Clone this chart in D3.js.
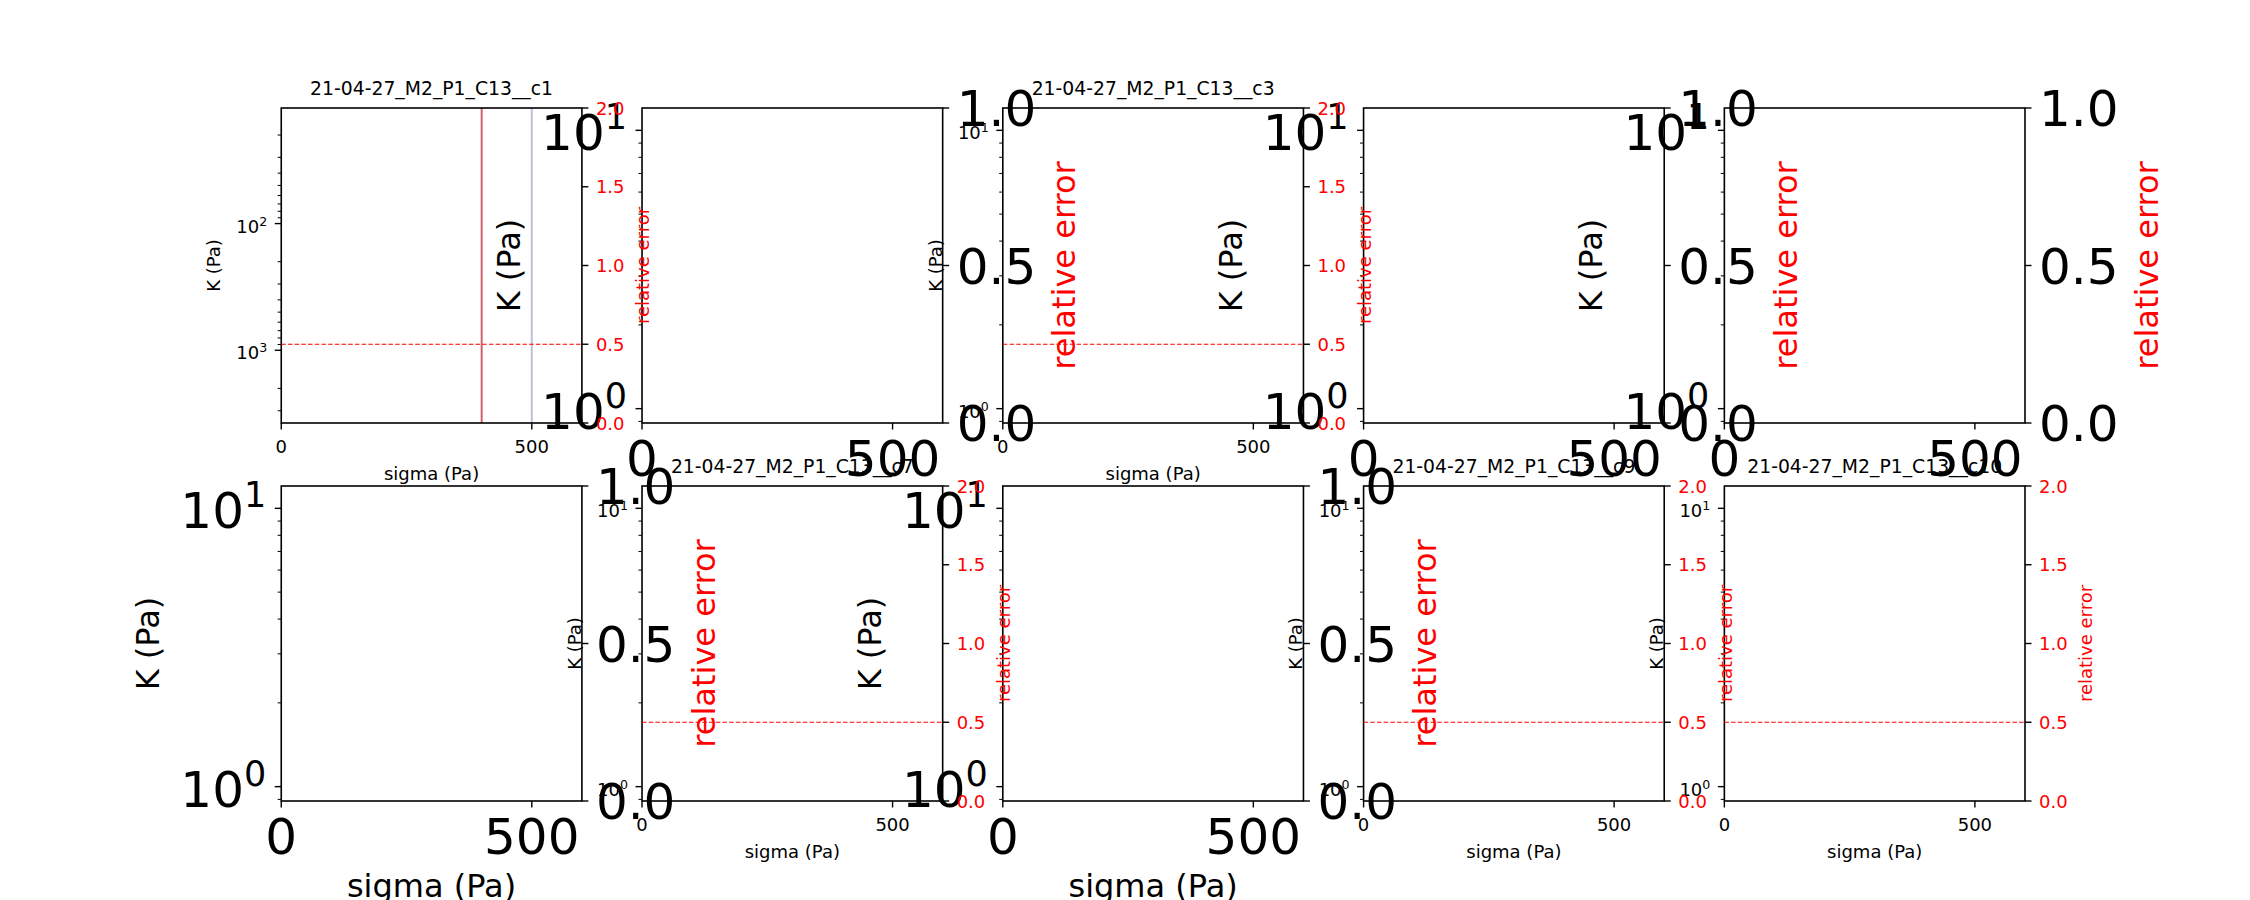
<!DOCTYPE html>
<html><head><meta charset="utf-8">
<script src="https://cdn.jsdelivr.net/npm/d3@7"></script>
<style>body{margin:0;background:#fff} svg{display:block} text{font-family:"DejaVu Sans",sans-serif}</style>
</head><body><svg id="chart" width="2250" height="900"></svg>
<script>
// ---------- data ----------
const panelTitles = ["21-04-27_M2_P1_C13__c1", "", "21-04-27_M2_P1_C13__c3", "", "",
                     "", "21-04-27_M2_P1_C13__c7", "", "21-04-27_M2_P1_C13__c9", "21-04-27_M2_P1_C13__c10"];
const panelStyles = ["small", "big", "small", "big", "big",
                     "big", "small", "big", "small", "small"];
const xLabel = "sigma (Pa)";
const yLabel = "K (Pa)";
const twinLabel = "relative error";
const sigmaDomain = [0, 600];
const sigmaTicks = [0, 500];
const kDomainEmpty = [0.888, 12.03];
const kDomainC1 = [12.24, 3750];          // drawn inverted (small values on top)
const relErrDomain = [0, 2];
const relErrTicks = [0, 0.5, 1.0, 1.5, 2.0];
const twinEmptyDomain = [0, 1];
const twinEmptyTicks = [0, 0.5, 1.0];
const errorThreshold = 0.5;
const markerSigmas = [400, 500];
const markerColors = ["#d0606a", "#bebede"];

// ---------- layout ----------
const W = 2250, H = 900;
const figL = 0.125 * W, figR = 0.9 * W, figT = (1 - 0.88) * H, figB = (1 - 0.11) * H;
const colW = (figR - figL) / (5 + 4 * 0.2), gapW = 0.2 * colW;
const rowH = (figB - figT) / (2 + 0.2), gapH = 0.2 * rowH;

const STY = {
  small: {tickFs: 18, labFs: 18, xtb: 30.3, xlb: 56.5, ytr: 14, ytb: 9, ylx: -61.3, rlx: 67.4, supShift: 0.38},
  big:   {tickFs: 50, labFs: 32, xtb: 53,   xlb: 95.5, ytr: 15, ytb: 20, ylx: -122, rlx: 132.8, supShift: 0.42}
};
const titleFs = 18.8;
const tickLen = 6.5, minorLen = 3.6, spineW = 1.6;

const svg = d3.select("#chart");
svg.append("rect").attr("width", W).attr("height", H).attr("fill", "#fff");

const panels = panelTitles.map((t, i) => {
  const r = Math.floor(i / 5), c = i % 5;
  const x0 = figL + c * (colW + gapW), y0 = figT + r * (rowH + gapH);
  return {i, r, c, x0, x1: x0 + colW, y0, y1: y0 + rowH, title: t, style: panelStyles[i]};
});

function drawMain(p) {
  const s = STY[p.style];
  const g = svg.append("g");
  const x = d3.scaleLinear().domain(sigmaDomain).range([p.x0, p.x1]);
  const isC1 = p.i === 0;
  const y = isC1 ? d3.scaleLog().domain(kDomainC1).range([p.y0, p.y1])   // inverted axis
                 : d3.scaleLog().domain(kDomainEmpty).range([p.y1, p.y0]);
  g.append("rect").attr("x", p.x0).attr("y", p.y0).attr("width", colW).attr("height", rowH).attr("fill", "#fff");
  if (isC1) {
    g.selectAll("line.mk").data(markerSigmas).join("line")
      .attr("x1", d => x(d)).attr("x2", d => x(d)).attr("y1", p.y0).attr("y2", p.y1)
      .attr("stroke", (d, k) => markerColors[k]).attr("stroke-width", 2);
  }
  // y ticks (log)
  const yt = y.ticks();
  yt.forEach(v => {
    const e = Math.log10(v), major = Math.abs(e - Math.round(e)) < 1e-9;
    const yy = y(v);
    g.append("line").attr("x1", p.x0).attr("x2", p.x0 - (major ? tickLen : minorLen))
      .attr("y1", yy).attr("y2", yy).attr("stroke", "#000").attr("stroke-width", major ? 1.4 : 1.0);
    if (major) {
      const t = g.append("text").attr("x", p.x0 - s.ytr).attr("y", yy + s.ytb)
        .attr("text-anchor", "end").attr("font-size", s.tickFs).attr("fill", "#000");
      t.append("tspan").text("10");
      t.append("tspan").attr("font-size", s.tickFs * 0.7).attr("dy", -s.tickFs * s.supShift).text(Math.round(e));
    }
  });
  // x ticks
  sigmaTicks.forEach(v => {
    g.append("line").attr("x1", x(v)).attr("x2", x(v)).attr("y1", p.y1).attr("y2", p.y1 + tickLen)
      .attr("stroke", "#000").attr("stroke-width", 1.4);
    g.append("text").attr("x", x(v)).attr("y", p.y1 + s.xtb).attr("text-anchor", "middle")
      .attr("font-size", s.tickFs).text(d3.format("d")(v));
  });
  g.append("rect").attr("x", p.x0).attr("y", p.y0).attr("width", colW).attr("height", rowH)
    .attr("fill", "none").attr("stroke", "#000").attr("stroke-width", spineW);
  // labels
  g.append("text").attr("x", (p.x0 + p.x1) / 2).attr("y", p.y1 + s.xlb).attr("text-anchor", "middle")
    .attr("font-size", s.labFs).text(xLabel);
  const ly = (p.y0 + p.y1) / 2, lx = p.x0 + s.ylx;
  g.append("text").attr("transform", `translate(${lx},${ly}) rotate(-90)`).attr("text-anchor", "middle")
    .attr("font-size", s.labFs).text(yLabel);
  if (p.title) {
    g.append("text").attr("x", (p.x0 + p.x1) / 2).attr("y", p.y0 - 13.5).attr("text-anchor", "middle")
      .attr("font-size", titleFs).text(p.title);
  }
}

function drawTwin(p) {
  const s = STY[p.style];
  const g = svg.append("g");
  const small = p.style === "small";
  const y = d3.scaleLinear().domain(small ? relErrDomain : twinEmptyDomain).range([p.y1, p.y0]);
  const ticks = small ? relErrTicks : twinEmptyTicks;
  if (small) {
    g.append("line").attr("x1", p.x0).attr("x2", p.x1).attr("y1", y(errorThreshold)).attr("y2", y(errorThreshold))
      .attr("stroke", "#ff0000").attr("stroke-width", 1.2).attr("stroke-dasharray", "4.5,2.2");
  }
  ticks.forEach(v => {
    g.append("line").attr("x1", p.x1).attr("x2", p.x1 + tickLen).attr("y1", y(v)).attr("y2", y(v))
      .attr("stroke", "#000").attr("stroke-width", 1.4);
    g.append("text").attr("x", p.x1 + 14).attr("y", y(v) + 0.3645 * s.tickFs)
      .attr("font-size", s.tickFs).attr("fill", small ? "#ff0000" : "#000").text(d3.format(".1f")(v));
  });
  const ly = (p.y0 + p.y1) / 2, lx = p.x1 + s.rlx;
  g.append("text").attr("transform", `translate(${lx},${ly}) rotate(-90)`).attr("text-anchor", "middle")
    .attr("font-size", s.labFs).attr("fill", "#ff0000").text(twinLabel);
}

panels.forEach(drawMain);
panels.forEach(drawTwin);
</script></body></html>
